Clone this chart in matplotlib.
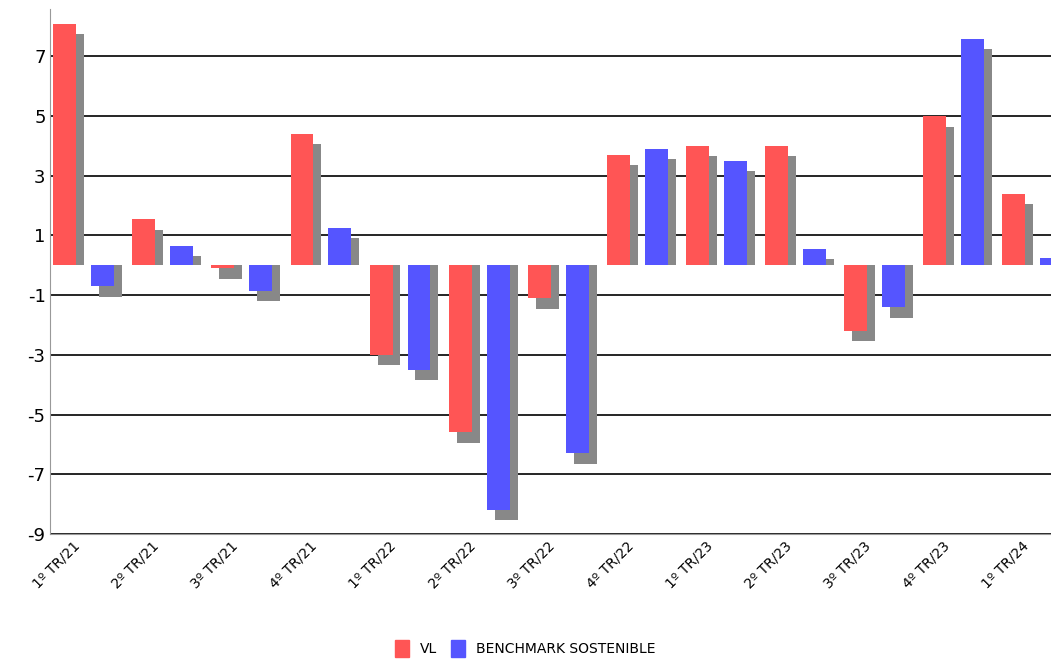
import matplotlib
matplotlib.use("Agg")
import matplotlib.pyplot as plt
import numpy as np
from matplotlib.patches import Patch

plt.rcParams['axes.unicode_minus'] = False

categories = ["1º TR/21","2º TR/21","3º TR/21","4º TR/21","1º TR/22","2º TR/22","3º TR/22",
              "4º TR/22","1º TR/23","2º TR/23","3º TR/23","4º TR/23","1º TR/24"]
vl = [8.1, 1.55, -0.1, 4.4, -3.0, -5.6, -1.1, 3.7, 4.0, 4.0, -2.2, 5.0, 2.4]
bench = [-0.7, 0.65, -0.85, 1.25, -3.5, -8.2, -6.3, 3.9, 3.5, 0.55, -1.4, 7.6, 0.25]

fig = plt.figure(figsize=(10.51, 6.69), dpi=100)
ax = fig.add_axes([0.048, 0.202, 0.952, 0.785])
x = np.arange(len(categories))
w = 0.29
off = 0.48
sh = 0.35
def shadow(v):
    v = np.array(v)
    s = v - sh
    s[v > 0] = np.maximum(s[v > 0], 0)
    return s
ax.bar(x + 0.1, shadow(vl), w, color="#888888", zorder=2)
ax.bar(x + off + 0.1, shadow(bench), w, color="#888888", zorder=2)
ax.bar(x, vl, w, color="#ff5555", zorder=3)
ax.bar(x + off, bench, w, color="#5555ff", zorder=3)

ax.set_ylim(-9, 8.6)
ax.set_xlim(-0.18, 12.47)
ax.set_yticks(range(-9, 8, 2))
ax.yaxis.grid(True, color="black", linewidth=1.2, zorder=1)
ax.set_axisbelow(True)
for s in ["top", "right"]:
    ax.spines[s].set_visible(False)
ax.spines["left"].set_color("#999999")
ax.spines["bottom"].set_color("#999999")
ax.tick_params(axis="y", length=0, labelsize=13)
ax.tick_params(axis="x", length=0, labelsize=10)
ax.set_xticks(x + 0.1)
ax.set_xticklabels(categories, rotation=45, ha="right", rotation_mode="anchor")
fig.legend(handles=[Patch(color="#ff5555", label="VL"), Patch(color="#5555ff", label="BENCHMARK SOSTENIBLE")],
           loc="lower center", bbox_to_anchor=(0.5, 0.0), ncol=2, frameon=False, fontsize=10,
           handlelength=1.0, handleheight=1.4, columnspacing=1.0)
fig.savefig("out.png", dpi=100)
